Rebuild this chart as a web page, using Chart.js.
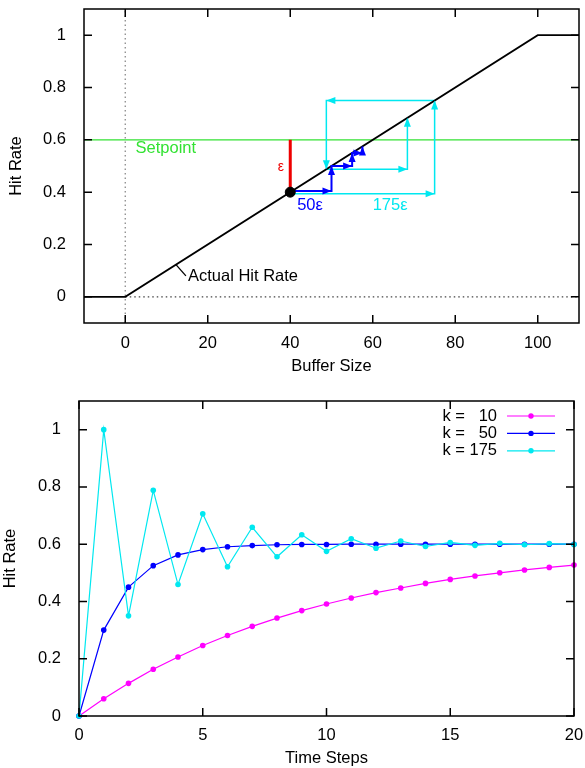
<!DOCTYPE html>
<html><head><meta charset="utf-8">
<script src="https://cdn.jsdelivr.net/npm/chart.js@4.4.0/dist/chart.umd.min.js"></script>
<style>html,body{margin:0;padding:0;background:#fff;}canvas{display:block;}</style>
</head><body>
<canvas id="topChart" width="585" height="384"></canvas>
<canvas id="botChart" width="585" height="384"></canvas>
<script>
// ---------- data: top panel (Hit Rate vs Buffer Size) ----------
const bufferTicks = [0, 20, 40, 60, 80, 100];
const hitTicks = [0, 0.2, 0.4, 0.6, 0.8, 1];
const hitTickLabels = ['0', '0.2', '0.4', '0.6', '0.8', '1'];
const actualX = [-10, 0, 100, 110];
const actualY = [0, 0, 1, 1];
const setpointX = [-10, 110];
const setpointY = [0.6, 0.6];
const errorX = [40, 40];
const errorY = [0.6, 0.4];
const startX = [40];
const startY = [0.4];
const blueX = [40, 50, 50, 55, 55, 57.5, 57.5];
const blueY = [0.404, 0.404, 0.5, 0.5, 0.55, 0.55, 0.575];
const cyanX = [40, 75, 75, 48.75, 48.75, 68.4, 68.4];
const cyanY = [0.394, 0.394, 0.75, 0.75, 0.4875, 0.4875, 0.684];
const zeroVX = [0, 0];
const zeroVY = [-0.1, 1.1];
const zeroHX = [0, 110];
const zeroHY = [0, 0];

// ---------- data: bottom panel (Hit Rate vs Time Steps) ----------
const timeSteps = [0,1,2,3,4,5,6,7,8,9,10,11,12,13,14,15,16,17,18,19,20];
const timeTicks = [0, 5, 10, 15, 20];
const seriesLabels = ['k =   10', 'k =   50', 'k = 175'];
const k10 = [0, 0.06, 0.114, 0.163, 0.206, 0.246, 0.281, 0.313, 0.342, 0.368, 0.391, 0.412, 0.431, 0.447, 0.463, 0.477, 0.489, 0.500, 0.510, 0.519, 0.527];
const k50 = [0, 0.30, 0.45, 0.525, 0.5625, 0.581, 0.591, 0.595, 0.598, 0.599, 0.599, 0.600, 0.600, 0.600, 0.600, 0.600, 0.600, 0.600, 0.600, 0.600, 0.600];
const k175 = [0, 1.0, 0.35, 0.788, 0.459, 0.706, 0.521, 0.659, 0.556, 0.633, 0.575, 0.619, 0.586, 0.611, 0.592, 0.606, 0.596, 0.603, 0.598, 0.602, 0.599];

const FONT = '"Liberation Sans", Arial, Helvetica, sans-serif';
const FS = 16.5;
Chart.defaults.font.family = FONT;
Chart.defaults.font.size = FS;
Chart.defaults.color = '#000';

const GREEN = '#33e233', RED = '#ee0000', BLUE = '#0000ff', CYAN = '#00e8f0', MAG = '#ff00ff';

function pts(xs, ys) { return xs.map((x, i) => ({x: x, y: ys[i]})); }

function frameAndTicks(chart, xt, yt) {
  const ctx = chart.ctx, ca = chart.chartArea;
  const xs = chart.scales.x, ys = chart.scales.y;
  const L = 8;
  ctx.save();
  ctx.strokeStyle = '#000';
  ctx.lineWidth = 1.5;
  ctx.setLineDash([]);
  ctx.beginPath();
  xt.forEach(v => {
    const p = xs.getPixelForValue(v);
    ctx.moveTo(p, ca.bottom); ctx.lineTo(p, ca.bottom - L);
    ctx.moveTo(p, ca.top); ctx.lineTo(p, ca.top + L);
  });
  yt.forEach(v => {
    const p = ys.getPixelForValue(v);
    ctx.moveTo(ca.left, p); ctx.lineTo(ca.left + L, p);
    ctx.moveTo(ca.right, p); ctx.lineTo(ca.right - L, p);
  });
  ctx.stroke();
  ctx.strokeRect(ca.left, ca.top, ca.right - ca.left, ca.bottom - ca.top);
  ctx.restore();
}

function arrowHead(ctx, x0, y0, x1, y1, color) {
  const a = Math.atan2(y1 - y0, x1 - x0);
  const len = 9, hw = 3.5;
  ctx.save();
  ctx.fillStyle = color;
  ctx.beginPath();
  ctx.moveTo(x1, y1);
  ctx.lineTo(x1 - len * Math.cos(a) + hw * Math.sin(a), y1 - len * Math.sin(a) - hw * Math.cos(a));
  ctx.lineTo(x1 - len * Math.cos(a) - hw * Math.sin(a), y1 - len * Math.sin(a) + hw * Math.cos(a));
  ctx.closePath();
  ctx.fill();
  ctx.restore();
}

// text annotations (data coordinates)
const topNotes = [
  {text: 'Setpoint', x: 2.5, y: 0.567, color: GREEN, align: 'left', size: FS},
  {text: 'ε', x: 37.7, y: 0.494, color: RED, align: 'center', size: 14},
  {text: '50ε', x: 44.8, y: 0.349, color: BLUE, align: 'center', size: FS},
  {text: '175ε', x: 64.2, y: 0.349, color: CYAN, align: 'center', size: FS},
  {text: 'Actual Hit Rate', x: 15.2, y: 0.076, color: '#000', align: 'left', size: FS}
];
const pointerFrom = {x: 12.3, y: 0.123}, pointerTo = {x: 14.7, y: 0.08};

const topPlugin = {
  id: 'topDecor',
  afterDatasetsDraw(chart) {
    const ctx = chart.ctx, xs = chart.scales.x, ys = chart.scales.y;
    chart.data.datasets.forEach((ds, i) => {
      if (!ds.arrows) return;
      const d = chart.getDatasetMeta(i).data;
      for (let k = 1; k < d.length; k++) arrowHead(ctx, d[k-1].x, d[k-1].y, d[k].x, d[k].y, ds.borderColor);
    });
    ctx.save();
    ctx.strokeStyle = '#000'; ctx.lineWidth = 1.3;
    ctx.beginPath();
    ctx.moveTo(xs.getPixelForValue(pointerFrom.x), ys.getPixelForValue(pointerFrom.y));
    ctx.lineTo(xs.getPixelForValue(pointerTo.x), ys.getPixelForValue(pointerTo.y));
    ctx.stroke();
    ctx.textBaseline = 'middle';
    topNotes.forEach(n => {
      ctx.font = n.size + 'px ' + FONT;
      ctx.fillStyle = n.color;
      ctx.textAlign = n.align;
      ctx.fillText(n.text, xs.getPixelForValue(n.x), ys.getPixelForValue(n.y));
    });
    ctx.restore();
  },
  afterDraw(chart) { frameAndTicks(chart, bufferTicks, hitTicks); }
};

const botPlugin = {
  id: 'botDecor',
  afterDraw(chart) {
    const ctx = chart.ctx, ca = chart.chartArea;
    ctx.save();
    ctx.font = FS + 'px ' + FONT;
    ctx.textBaseline = 'middle';
    ctx.textAlign = 'right';
    chart.data.datasets.forEach((ds, i) => {
      const y = ca.top + 15 + i * 17.4;
      ctx.fillStyle = '#000';
      ctx.fillText(ds.label, ca.right - 77, y);
      ctx.strokeStyle = ds.borderColor; ctx.lineWidth = 1.2;
      ctx.beginPath(); ctx.moveTo(ca.right - 67, y); ctx.lineTo(ca.right - 19, y); ctx.stroke();
      ctx.fillStyle = ds.backgroundColor;
      ctx.beginPath(); ctx.arc(ca.right - 43, y, 2.7, 0, Math.PI * 2); ctx.fill();
    });
    ctx.restore();
    frameAndTicks(chart, timeTicks, hitTicks);
  }
};

function lineDs(data, color, width, order, extra) {
  return Object.assign({data: data, borderColor: color, backgroundColor: color, borderWidth: width,
    pointRadius: 0, showLine: true, tension: 0, order: order, clip: false}, extra || {});
}

function yScale(min, max, titlePad) {
  return {
    type: 'linear', min: min, max: max,
    grid: {display: false}, border: {display: false},
    afterBuildTicks: s => { s.ticks = hitTicks.map(v => ({value: v})); },
    ticks: {padding: 10, callback: (v) => hitTickLabels[hitTicks.indexOf(v)]},
    title: {display: true, text: 'Hit Rate', padding: {top: titlePad, bottom: 0}}
  };
}

new Chart(document.getElementById('topChart'), {
  type: 'scatter',
  data: {datasets: [
    lineDs(pts(zeroVX, zeroVY), '#8a8a8a', 1.3, 9, {borderDash: [1.5, 3]}),
    lineDs(pts(zeroHX, zeroHY), '#444', 1.1, 8, {borderDash: [1.5, 3]}),
    lineDs(pts(setpointX, setpointY), GREEN, 1.2, 7),
    lineDs(pts(cyanX, cyanY), CYAN, 1.5, 5, {arrows: true}),
    lineDs(pts(actualX, actualY), '#000', 1.7, 4),
    lineDs(pts(blueX, blueY), BLUE, 2, 3, {arrows: true}),
    lineDs(pts(errorX, errorY), RED, 3, 2),
    {data: pts(startX, startY), backgroundColor: '#000', borderColor: '#000', pointRadius: 5, order: 0, showLine: false}
  ]},
  options: {
    responsive: false, animation: false, events: [],
    layout: {padding: {left: 0, right: 5.5, top: 9, bottom: 0}},
    plugins: {legend: {display: false}, tooltip: {enabled: false}},
    scales: {
      x: {
        type: 'linear', min: -10, max: 110,
        grid: {display: false}, border: {display: false},
        afterBuildTicks: s => { s.ticks = bufferTicks.map(v => ({value: v})); },
        ticks: {padding: 3, maxRotation: 0, callback: v => String(v)},
        title: {display: true, text: 'Buffer Size', padding: {top: 0, bottom: 8}},
        afterFit: s => { s.height = 61; s.paddingLeft = 0; s.paddingRight = 0; }
      },
      y: Object.assign(yScale(-0.1, 1.1, 7), {afterFit: s => { s.width = 84; s.paddingTop = 0; s.paddingBottom = 0; }})
    }
  },
  plugins: [topPlugin]
});

function seriesDs(label, values, color, order) {
  return {label: label, data: pts(timeSteps, values), borderColor: color, backgroundColor: color,
    borderWidth: 1.2, pointRadius: 2.8, pointBorderWidth: 0, showLine: true, tension: 0, order: order, clip: false};
}

new Chart(document.getElementById('botChart'), {
  type: 'scatter',
  data: {datasets: [
    seriesDs(seriesLabels[0], k10, MAG, 3),
    seriesDs(seriesLabels[1], k50, BLUE, 2),
    seriesDs(seriesLabels[2], k175, CYAN, 1)
  ]},
  options: {
    responsive: false, animation: false, events: [],
    layout: {padding: {left: 0, right: 11, top: 17, bottom: 0}},
    plugins: {legend: {display: false}, tooltip: {enabled: false}},
    scales: {
      x: {
        type: 'linear', min: 0, max: 20,
        grid: {display: false}, border: {display: false},
        afterBuildTicks: s => { s.ticks = timeTicks.map(v => ({value: v})); },
        ticks: {padding: 1.5, maxRotation: 0, callback: v => String(v)},
        title: {display: true, text: 'Time Steps', padding: {top: 0, bottom: 0}},
        afterFit: s => { s.height = 52; s.paddingLeft = 0; s.paddingRight = 0; }
      },
      y: Object.assign(yScale(0, 1.1, 1), {afterFit: s => { s.width = 79; s.paddingTop = 0; s.paddingBottom = 0; }})
    }
  },
  plugins: [botPlugin]
});
</script>
</body></html>
